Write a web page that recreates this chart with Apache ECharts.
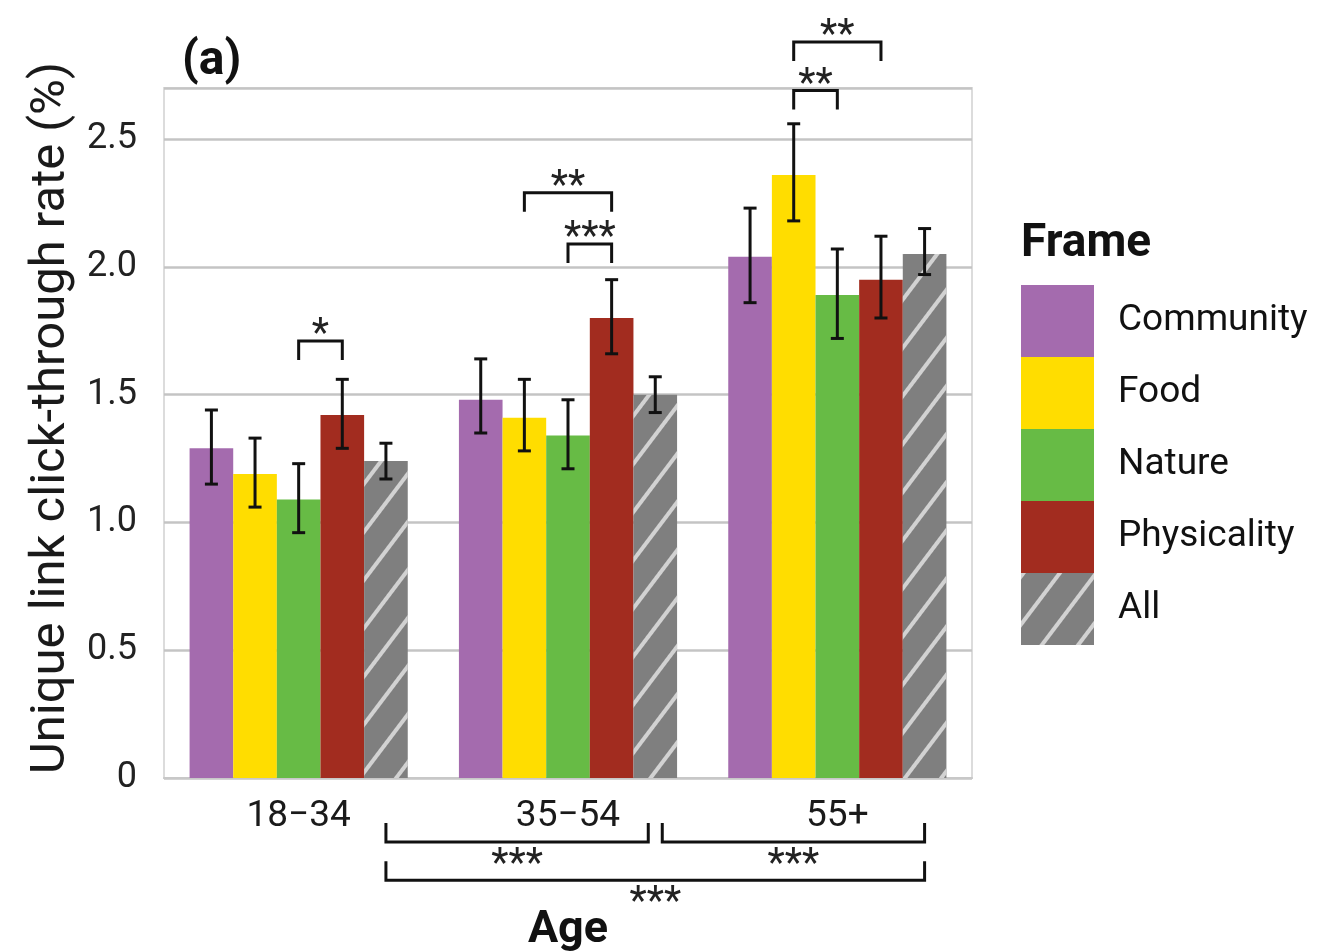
<!DOCTYPE html>
<html>
<head>
<meta charset="utf-8">
<script src="https://cdn.jsdelivr.net/npm/echarts@6/dist/echarts.min.js"></script>
<style>
  html, body { margin: 0; padding: 0; background: #fff; }
  #main { width: 1327px; height: 952px; }
</style>
</head>
<body>
<div id="main"></div>
<script>
// categories and frames
const ageGroups = ['18−34', '35−54', '55+'];
const frames = ['Community', 'Food', 'Nature', 'Physicality', 'All'];
const frameColors = ['#a46bae', '#ffdd00', '#67bb45', '#a22c1f', '#7f7f7f'];

// mean click-through rate (%) per frame, by age group
const community = [1.29, 1.48, 2.04];
const food = [1.19, 1.41, 2.36];
const nature = [1.09, 1.34, 1.89];
const physicality = [1.42, 1.80, 1.95];
const allFrames = [1.24, 1.50, 2.05];

// error bar limits
const communityLo = [1.15, 1.35, 1.86], communityHi = [1.44, 1.64, 2.23];
const foodLo = [1.06, 1.28, 2.18], foodHi = [1.33, 1.56, 2.56];
const natureLo = [0.96, 1.21, 1.72], natureHi = [1.23, 1.48, 2.07];
const physLo = [1.29, 1.66, 1.80], physHi = [1.56, 1.95, 2.12];
const allLo = [1.17, 1.43, 1.97], allHi = [1.31, 1.57, 2.15];

// significance brackets inside each age group
const sigGroup = [0, 1, 1, 2, 2];
const sigFrom = [2, 1, 2, 1, 1];
const sigTo = [3, 3, 3, 3, 2];
const sigLevel = [1.71, 2.29, 2.09, 2.88, 2.69];
const sigStars = ['*', '**', '***', '**', '**'];

// significance brackets between age groups (drawn below the axis)
const ageFrom = [0, 1, 0];
const ageTo = [1, 2, 2];
const ageLevel = [-0.25, -0.25, -0.40];
const ageStars = ['***', '***', '***'];

const yTicks = [0, 0.5, 1.0, 1.5, 2.0, 2.5];

const values = [community, food, nature, physicality, allFrames];
const lows = [communityLo, foodLo, natureLo, physLo, allLo];
const highs = [communityHi, foodHi, natureHi, physHi, allHi];

const GAP = 0.19;
function barOffset(api, k) {
    let band = api.size([1, 0])[0];
    let w = band * (1 - GAP) / frames.length;
    return -band * (1 - GAP) / 2 + w * (k + 0.5);
}

let errData = [];
for (let f = 0; f < frames.length; f++) {
    for (let c = 0; c < ageGroups.length; c++) {
        errData.push([c, f, lows[f][c], highs[f][c]]);
    }
}

const font = 'Roboto, "Liberation Sans", sans-serif';

let barSeries = frames.map((name, f) => {
    let s = {
        name: name,
        type: 'bar',
        data: values[f],
        barGap: 0,
        barCategoryGap: (GAP * 100) + '%',
        itemStyle: { color: frameColors[f] }
    };
    if (name === 'All') {
        s.itemStyle.decal = {
            symbol: 'rect',
            color: '#d2d2d2',
            dashArrayX: [1, 0],
            dashArrayY: [4, 25],
            rotation: -Math.PI / 3.4
        };
    }
    return s;
});

let errSeries = {
    type: 'custom',
    z: 10,
    data: errData,
    encode: { x: 0, y: [2, 3] },
    renderItem: function (params, api) {
        let f = api.value(1);
        let top = api.coord([api.value(0), api.value(3)]);
        let bot = api.coord([api.value(0), api.value(2)]);
        let x = top[0] + barOffset(api, f);
        let cap = 6.5;
        return {
            type: 'group',
            children: [
                { type: 'line', shape: { x1: x, y1: top[1], x2: x, y2: bot[1] }, style: { stroke: '#111', lineWidth: 3 } },
                { type: 'line', shape: { x1: x - cap, y1: top[1], x2: x + cap, y2: top[1] }, style: { stroke: '#111', lineWidth: 3 } },
                { type: 'line', shape: { x1: x - cap, y1: bot[1], x2: x + cap, y2: bot[1] }, style: { stroke: '#111', lineWidth: 3 } }
            ]
        };
    }
};

let sigSeries = {
    type: 'custom',
    z: 10,
    data: sigLevel.map((y, i) => [sigGroup[i], y]),
    encode: { x: 0, y: 1 },
    renderItem: function (params, api) {
        let i = params.dataIndex;
        let p = api.coord([api.value(0), api.value(1)]);
        let x1 = p[0] + barOffset(api, sigFrom[i]);
        let x2 = p[0] + barOffset(api, sigTo[i]);
        let t = 19;
        return {
            type: 'group',
            children: [
                { type: 'polyline', shape: { points: [[x1, p[1] + t], [x1, p[1]], [x2, p[1]], [x2, p[1] + t]] },
                  style: { stroke: '#111', lineWidth: 3, fill: null } },
                { type: 'text', style: { text: sigStars[i], x: (x1 + x2) / 2, y: p[1] - 5, align: 'center', verticalAlign: 'middle',
                  fill: '#222', fontSize: 40, fontFamily: font } }
            ]
        };
    }
};

let ageSeries = {
    type: 'custom',
    z: 10,
    data: ageLevel.map((y, i) => [ageFrom[i], y]),
    encode: { x: 0, y: 1 },
    renderItem: function (params, api) {
        let i = params.dataIndex;
        let a = api.coord([ageFrom[i], ageLevel[i]]);
        let b = api.coord([ageTo[i], ageLevel[i]]);
        let x1 = a[0] + barOffset(api, 4) + (ageFrom[i] === 1 ? 7 : 0);
        let x2 = b[0] + barOffset(api, 4) - (ageTo[i] === 1 ? 7 : 0);
        let t = 19;
        return {
            type: 'group',
            children: [
                { type: 'polyline', shape: { points: [[x1, a[1] - t], [x1, a[1]], [x2, a[1]], [x2, a[1] - t]] },
                  style: { stroke: '#111', lineWidth: 3, fill: null } },
                { type: 'text', style: { text: ageStars[i], x: (x1 + x2) / 2, y: a[1] + 24, align: 'center', verticalAlign: 'middle',
                  fill: '#222', fontSize: 40, fontFamily: font } }
            ]
        };
    }
};

let chart = echarts.init(document.getElementById('main'));
chart.setOption({
    backgroundColor: '#fff',
    animation: false,
    textStyle: { fontFamily: font },
    title: [
        { text: '(a)', left: 177, top: 33, textStyle: { fontSize: 48, fontWeight: 'bold', color: '#111', fontFamily: font } },
        { text: 'Frame', left: 1016, top: 216, textStyle: { fontSize: 46, fontWeight: 'bold', color: '#111', fontFamily: font } }
    ],
    legend: {
        orient: 'vertical',
        left: 1016,
        top: 280,
        itemWidth: 73,
        itemHeight: 72,
        itemGap: 0,
        icon: 'rect',
        data: frames,
        textStyle: { fontSize: 37, color: '#111', padding: [8, 0, 0, 19], fontFamily: font }
    },
    grid: {
        left: 164, right: 355, top: 88, bottom: 174,
        outerBoundsMode: 'none',
        show: true, borderColor: '#dcdcdc', borderWidth: 2
    },
    xAxis: {
        type: 'category',
        data: ageGroups,
        axisLine: { show: true, lineStyle: { color: '#c8c8c8', width: 2 } },
        axisTick: { show: false },
        axisLabel: { fontSize: 37, color: '#1a1a1a', margin: 20 },
        name: 'Age',
        nameLocation: 'middle',
        nameGap: 130,
        nameTextStyle: { fontSize: 45, fontWeight: 'bold', color: '#111' }
    },
    yAxis: {
        type: 'value',
        min: 0,
        max: 2.7,
        interval: 0.5,
        axisLine: { show: false },
        axisTick: { show: false },
        splitLine: { lineStyle: { color: '#c4c4c4', width: 2.5 } },
        axisLabel: {
            fontSize: 36,
            color: '#222',
            margin: 27,
            showMaxLabel: false,
            formatter: function (v) {
                if (yTicks.indexOf(v) < 0) return '';
                return v === 0 ? '0' : v.toFixed(1);
            }
        },
        name: 'Unique link click-through rate (%)',
        nameLocation: 'middle',
        nameGap: 88,
        nameTextStyle: { fontSize: 49, color: '#1a1a1a', padding: [0, 0, 0, 30] }
    },
    series: barSeries.concat([errSeries, sigSeries, ageSeries])
});
</script>
</body>
</html>
